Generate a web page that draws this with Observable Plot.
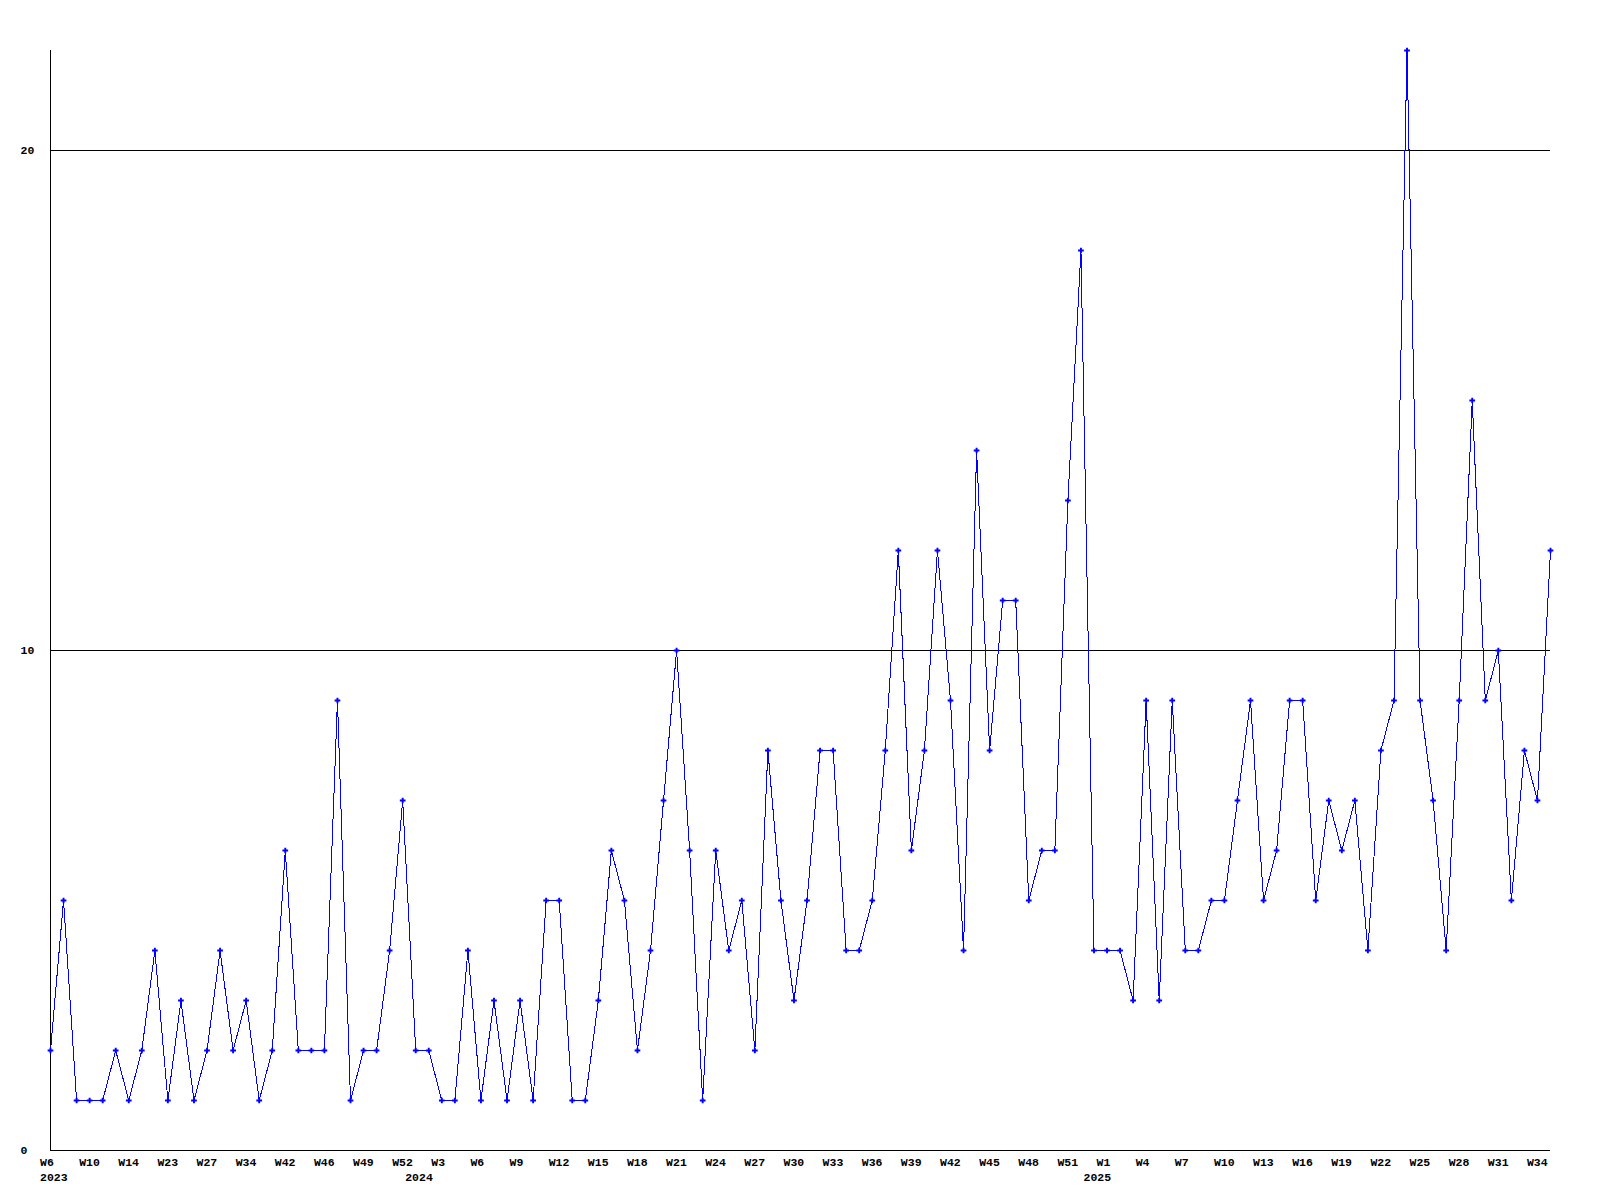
<!DOCTYPE html>
<html>
<head>
<meta charset="utf-8">
<script src="https://cdn.jsdelivr.net/npm/d3@7"></script>
<script src="https://cdn.jsdelivr.net/npm/@observablehq/plot@0.6"></script>
<style>
  html, body { margin: 0; padding: 0; background: #ffffff; }
  #chart svg { display: block; }
</style>
</head>
<body>
<div id="chart"></div>
<script>
// Weekly values (one point per week shown on the chart)
const values = [
  2,5,1,1,1,2,1,2,4,1,3,1,2,4,2,3,1,2,6,2,2,2,9,1,2,2,4,7,
  2,2,1,1,4,1,3,1,3,1,5,5,1,1,3,6,5,2,4,7,10,6,1,6,4,5,2,8,5,3,5,8,
  8,4,4,5,8,12,6,8,12,9,4,14,8,11,11,5,6,6,13,18,4,4,4,3,9,3,9,4,4,5,
  5,7,9,5,6,9,9,5,7,6,7,4,8,9,22,9,7,4,9,15,9,10,5,8,7,12
];

// Week tick labels, one every third point
const weekTicks = [
  "W6","W10","W14","W23","W27","W34","W42","W46","W49","W52",
  "W3","W6","W9","W12","W15","W18","W21","W24","W27","W30","W33","W36","W39","W42","W45","W48","W51",
  "W1","W4","W7","W10","W13","W16","W19","W22","W25","W28","W31","W34"
];
const weekTickIndex = [
  0,3,6,9,12,15,18,21,24,27,
  30,33,36,39,42,45,48,51,54,57,60,63,66,69,72,75,78,
  81,84,87,90,93,96,99,102,105,108,111,114
];

// Year labels and the point index where each year begins
const years = ["2023","2024","2025"];
const yearIndex = [0, 28, 80];

// Y axis tick values and gridlines
const yTicks = [0, 10, 20];
const gridLines = [10, 20];

const data = values.map((v, i) => ({i, v}));
const weekData = weekTicks.map((label, k) => ({i: weekTickIndex[k], label}));
const yearData = years.map((label, k) => ({i: yearIndex[k], label}));

const chart = Plot.plot({
  width: 1600,
  height: 1200,
  marginLeft: 50,
  marginRight: 50,
  marginTop: 50,
  marginBottom: 50,
  x: {domain: [0, values.length - 1], axis: null},
  y: {domain: [0, 22], axis: null},
  style: {
    fontFamily: "'Liberation Mono', 'DejaVu Sans Mono', monospace",
    fontSize: "11.5px",
    fontWeight: "bold",
    background: "#ffffff",
    color: "#000000"
  },
  marks: [
    Plot.ruleY(gridLines, {stroke: "#000000", strokeWidth: 1, shapeRendering: "crispEdges"}),
    Plot.ruleY([0], {stroke: "#000000", strokeWidth: 1, shapeRendering: "crispEdges"}),
    Plot.ruleX([0], {stroke: "#000000", strokeWidth: 1, shapeRendering: "crispEdges"}),
    Plot.line(data, {x: "i", y: "v", stroke: "#0000ff", strokeWidth: 1, shapeRendering: "crispEdges"}),
    Plot.dot(data, {x: "i", y: "v", symbol: "cross", r: 2.4, fill: "#0000ff", stroke: "none"}),
    Plot.text(yTicks, {y: d => d, text: d => String(d), frameAnchor: "left", dx: -30, textAnchor: "start", fill: "#000000"}),
    Plot.text(weekData, {x: "i", text: "label", frameAnchor: "bottom", dy: 15, dx: -10.5, textAnchor: "start", fill: "#000000"}),
    Plot.text(yearData, {x: "i", text: "label", frameAnchor: "bottom", dy: 30, dx: -10.5, textAnchor: "start", fill: "#000000"})
  ]
});
document.getElementById("chart").appendChild(chart);
</script>
</body>
</html>
